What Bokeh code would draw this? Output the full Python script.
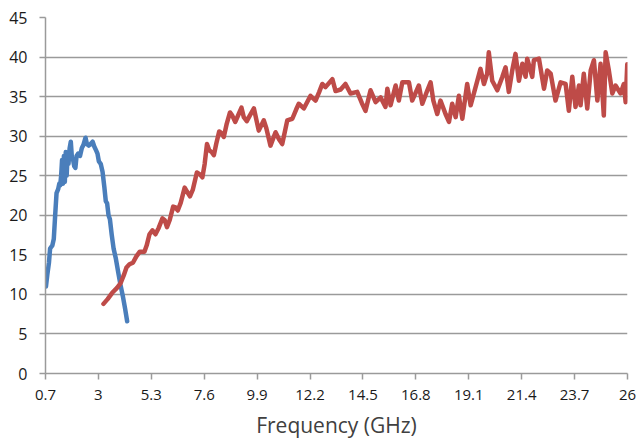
from bokeh.plotting import figure
from bokeh.models import FixedTicker, Range1d
from bokeh.embed import file_html
from bokeh.resources import INLINE

x_ticks = [0.7, 3, 5.3, 7.6, 9.9, 12.2, 14.5, 16.8, 19.1, 21.4, 23.7, 26]
x_tick_labels = ["0.7", "3", "5.3", "7.6", "9.9", "12.2", "14.5", "16.8", "19.1", "21.4", "23.7", "26"]
y_ticks = [0, 5, 10, 15, 20, 25, 30, 35, 40, 45]

blue_x = [0.72, 0.78, 0.85, 0.90, 1.00, 1.06, 1.12, 1.18, 1.25, 1.30, 1.34, 1.38, 1.42, 1.46,
          1.50, 1.54, 1.58, 1.62, 1.66, 1.70, 1.75, 1.80, 1.85, 1.90, 1.95, 2.00, 2.05, 2.12,
          2.20, 2.28, 2.35, 2.44, 2.50, 2.58, 2.66, 2.75, 2.82, 2.90, 2.96, 3.02, 3.10, 3.18,
          3.26, 3.32, 3.38, 3.44, 3.50, 3.58, 3.66, 3.76, 3.86, 3.96, 4.06, 4.16, 4.25]
blue_y = [11.0, 12.5, 14.0, 15.8, 16.2, 17.0, 20.0, 22.8, 23.3, 24.0, 23.8, 25.0, 27.0, 24.0,
          27.5, 24.2, 28.0, 25.0, 27.8, 26.5, 28.5, 29.3, 27.2, 27.0, 26.2, 26.0, 27.5, 27.8,
          27.5, 28.5, 28.9, 29.8, 29.0, 28.8, 29.0, 29.3, 28.7, 28.2, 27.8, 26.8, 26.5, 25.5,
          23.5, 21.8, 21.5, 20.0, 19.5, 17.5, 15.8, 14.5, 12.8, 11.2, 9.8, 8.2, 6.6]

red_x = [3.22, 3.40, 3.60, 3.80, 3.96, 4.10, 4.22, 4.35, 4.50, 4.65, 4.80, 5.00, 5.10, 5.22,
         5.35, 5.48, 5.62, 5.78, 5.88, 5.98, 6.10, 6.25, 6.35, 6.45, 6.58, 6.75, 6.85, 6.98,
         7.10, 7.28, 7.40, 7.52, 7.62, 7.72, 7.82, 7.92, 8.02, 8.12, 8.25, 8.35, 8.45, 8.58,
         8.72, 8.82, 8.95, 9.10, 9.22, 9.32, 9.45, 9.58, 9.76, 9.97, 10.19, 10.30, 10.48, 10.70,
         10.85, 10.99, 11.10, 11.21, 11.43, 11.60, 11.71, 11.93, 12.22, 12.44, 12.60, 12.73,
         12.87, 13.17, 13.31, 13.53, 13.74, 13.96, 14.25, 14.45, 14.61, 14.83, 15.05, 15.27,
         15.48, 15.56, 15.70, 15.92, 16.06, 16.21, 16.50, 16.64, 16.93, 17.08, 17.30, 17.44,
         17.56, 17.73, 17.87, 18.09, 18.24, 18.38, 18.53, 18.67, 18.82, 19.03, 19.18, 19.47,
         19.61, 19.76, 19.90, 19.97, 20.12, 20.34, 20.56, 20.70, 20.84, 20.99, 21.13, 21.28,
         21.43, 21.57, 21.64, 21.86, 21.93, 22.15, 22.37, 22.51, 22.66, 22.87, 23.09, 23.31,
         23.45, 23.60, 23.74, 23.89, 23.96, 24.10, 24.25, 24.40, 24.54, 24.69, 24.83, 24.97,
         25.05, 25.19, 25.34, 25.48, 25.70, 25.84, 25.92, 25.99]
red_y = [8.8, 9.4, 10.2, 10.8, 11.4, 12.4, 13.4, 13.8, 14.0, 14.8, 15.4, 15.4, 16.2, 17.6,
         18.1, 17.6, 18.4, 19.6, 19.4, 18.5, 19.4, 21.1, 21.0, 20.6, 21.6, 23.5, 23.0, 22.4,
         23.2, 25.4, 25.2, 24.8, 26.5, 29.0, 28.2, 28.0, 27.6, 29.0, 30.6, 30.4, 29.9, 31.6,
         33.0, 32.6, 31.8, 32.8, 33.6, 32.4, 31.9, 32.6, 33.5, 30.7, 32.0, 31.0, 28.8, 30.5,
         29.6, 29.0, 30.5, 32.0, 32.2, 33.4, 34.1, 33.5, 35.1, 34.5, 35.6, 36.6, 36.2, 37.2,
         35.7, 35.9, 36.6, 35.4, 35.6, 34.2, 33.2, 35.8, 34.3, 34.9, 33.7, 36.0, 33.9, 36.4,
         34.5, 36.8, 36.8, 34.5, 36.4, 34.1, 35.8, 36.8, 34.5, 32.8, 34.5, 32.8, 31.8, 34.1,
         32.4, 35.1, 32.2, 36.6, 33.9, 37.0, 38.5, 36.6, 37.9, 40.6, 37.0, 35.8, 37.5, 38.7,
         35.6, 38.3, 40.4, 37.0, 39.15, 37.5, 39.8, 37.5, 39.6, 39.8, 36.0, 38.3, 37.9, 34.5,
         36.8, 36.6, 33.2, 37.5, 33.7, 36.4, 33.9, 37.9, 33.5, 38.3, 39.6, 34.5, 39.15, 32.6,
         40.6, 38.3, 35.4, 36.4, 35.4, 36.6, 34.3, 39.1]

p = figure(width=639, height=442, output_backend="svg", toolbar_location=None,
           x_range=Range1d(0.7, 26), y_range=Range1d(0, 45),
           min_border_left=45, min_border_right=12, min_border_top=17, min_border_bottom=69)
p.outline_line_color = None
p.background_fill_color = "white"

p.line(blue_x, blue_y, line_color="#4a7ebb", line_width=4.5, line_join="round", line_cap="round")
p.line(red_x, red_y, line_color="#be4b48", line_width=4.5, line_join="round", line_cap="round")

grid_color = "#9a9a9a"
p.xgrid.grid_line_color = None
p.ygrid.grid_line_color = grid_color
p.ygrid.grid_line_width = 1.5
p.ygrid.ticker = FixedTicker(ticks=y_ticks)

p.xaxis.ticker = FixedTicker(ticks=x_ticks)
p.xaxis.major_label_overrides = {t: l for t, l in zip(x_ticks, x_tick_labels)}
p.yaxis.ticker = FixedTicker(ticks=y_ticks)

for ax in (p.xaxis[0], p.yaxis[0]):
    ax.axis_line_color = grid_color
    ax.axis_line_width = 1.5
    ax.major_tick_line_color = grid_color
    ax.major_tick_line_width = 1.5
    ax.major_tick_out = 6
    ax.major_tick_in = 0
    ax.minor_tick_line_color = None
    ax.major_label_text_font = "Open Sans"
    ax.major_label_text_color = "#1a1a1a"

p.xaxis.major_label_text_font_size = "15px"
p.yaxis.major_label_text_font_size = "16px"
p.xaxis.major_label_standoff = 10
p.yaxis.major_label_standoff = 12

p.xaxis.axis_label = "Frequency (GHz)"
p.xaxis.axis_label_text_font = "Open Sans"
p.xaxis.axis_label_text_font_size = "21px"
p.xaxis.axis_label_text_font_style = "normal"
p.xaxis.axis_label_text_color = "#404040"
p.xaxis.axis_label_standoff = 8

open("out.html", "w").write(file_html(p, INLINE))
